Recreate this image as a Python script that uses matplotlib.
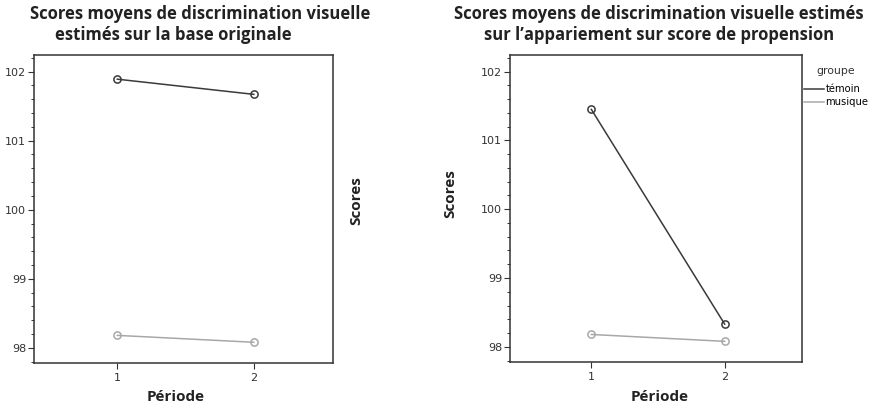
import matplotlib
matplotlib.use("Agg")
import matplotlib.pyplot as plt
from matplotlib.ticker import MultipleLocator

periods = [1, 2]
temoin_orig = [101.89, 101.67]
musique_orig = [98.18, 98.08]
temoin_psm = [101.45, 98.33]
musique_psm = [98.18, 98.08]
groups = ["témoin", "musique"]
yticks = [98, 99, 100, 101, 102]

c_tem = "#3a3a3a"
c_mus = "#a8a8a8"

fig = plt.figure(figsize=(8.71, 4.09), dpi=100)
W, H = 871, 409

def make_ax(l, r, t, b):
    return fig.add_axes([l / W, 1 - b / H, (r - l) / W, (b - t) / H])

ax1 = make_ax(34, 333, 55, 363)
ax2 = make_ax(510, 802, 55, 362)

lab_kw = dict(fontsize=11, fontweight="bold", family="Open Sans", color="#222222")

for ax, tem, mus in [(ax1, temoin_orig, musique_orig), (ax2, temoin_psm, musique_psm)]:
    ax.plot(periods, tem, color=c_tem, lw=1.1, marker="o", ms=5.2,
            mfc="none", mec=c_tem, mew=1.1, label=groups[0])
    ax.plot(periods, mus, color=c_mus, lw=1.1, marker="o", ms=5.2,
            mfc="none", mec=c_mus, mew=1.1, label=groups[1])
    ax.set_xlim(0.39, 2.58)
    ax.set_ylim(97.78, 102.24)
    ax.set_xticks(periods)
    ax.set_xticklabels([str(p) for p in periods])
    ax.set_yticks(yticks)
    ax.set_yticklabels([str(v) for v in yticks])
    ax.yaxis.set_minor_locator(MultipleLocator(0.2))
    ax.tick_params(axis="both", which="major", direction="out", length=4.5,
                   width=0.8, labelsize=8, colors="#333333", pad=1.2)
    ax.tick_params(axis="x", which="major", pad=2.5)
    ax.tick_params(axis="y", which="minor", direction="out", length=2.2,
                   width=0.7, colors="#333333")
    for s in ax.spines.values():
        s.set_color("#333333")
        s.set_linewidth(1.1)
    ax.set_xlabel("Période", **lab_kw)
    ax.set_ylabel("Scores", **lab_kw)

ax1.yaxis.set_label_position("right")
ax1.xaxis.set_label_coords((176 - 34) / 299, (363 - 397) / 308)
ax2.xaxis.set_label_coords((660 - 510) / 292, (362 - 397) / 307)
ax1.yaxis.set_label_coords((356 - 34) / 299, (363 - 201) / 308)
ax2.yaxis.set_label_coords((450 - 510) / 292, (362 - 194) / 307)
for ax in (ax1, ax2):
    ax.xaxis.label.set_va("center")
    ax.yaxis.label.set_va("center")
    ax.yaxis.label.set_rotation_mode("anchor")

tkw = dict(fontsize=12, fontweight="bold", family="Open Sans", color="#222222",
           va="center")
fig.text(30 / W, 1 - 14 / H, "Scores moyens de discrimination visuelle", ha="left", **tkw)
fig.text(55 / W, 1 - 35 / H, "estimés sur la base originale", ha="left", **tkw)
fig.text(659 / W, 1 - 14 / H, "Scores moyens de discrimination visuelle estimés", ha="center", **tkw)
fig.text(659 / W, 1 - 35 / H, "sur l’appariement sur score de propension", ha="center", **tkw)

# legend
fig.text(836 / W, 1 - 71 / H, "groupe", ha="center", va="center", fontsize=7.8,
         color="#333333")
leg = fig.legend(handles=ax2.get_lines(), labels=groups, loc="upper left",
                 bbox_to_anchor=(804 / W, 1 - 84 / H), frameon=False,
                 fontsize=7.2, handlelength=2.0, handletextpad=0.15,
                 labelspacing=0.3, borderpad=0, borderaxespad=0)
for lh in leg.get_lines():
    lh.set_marker("")

fig.savefig("out.png", dpi=100)
